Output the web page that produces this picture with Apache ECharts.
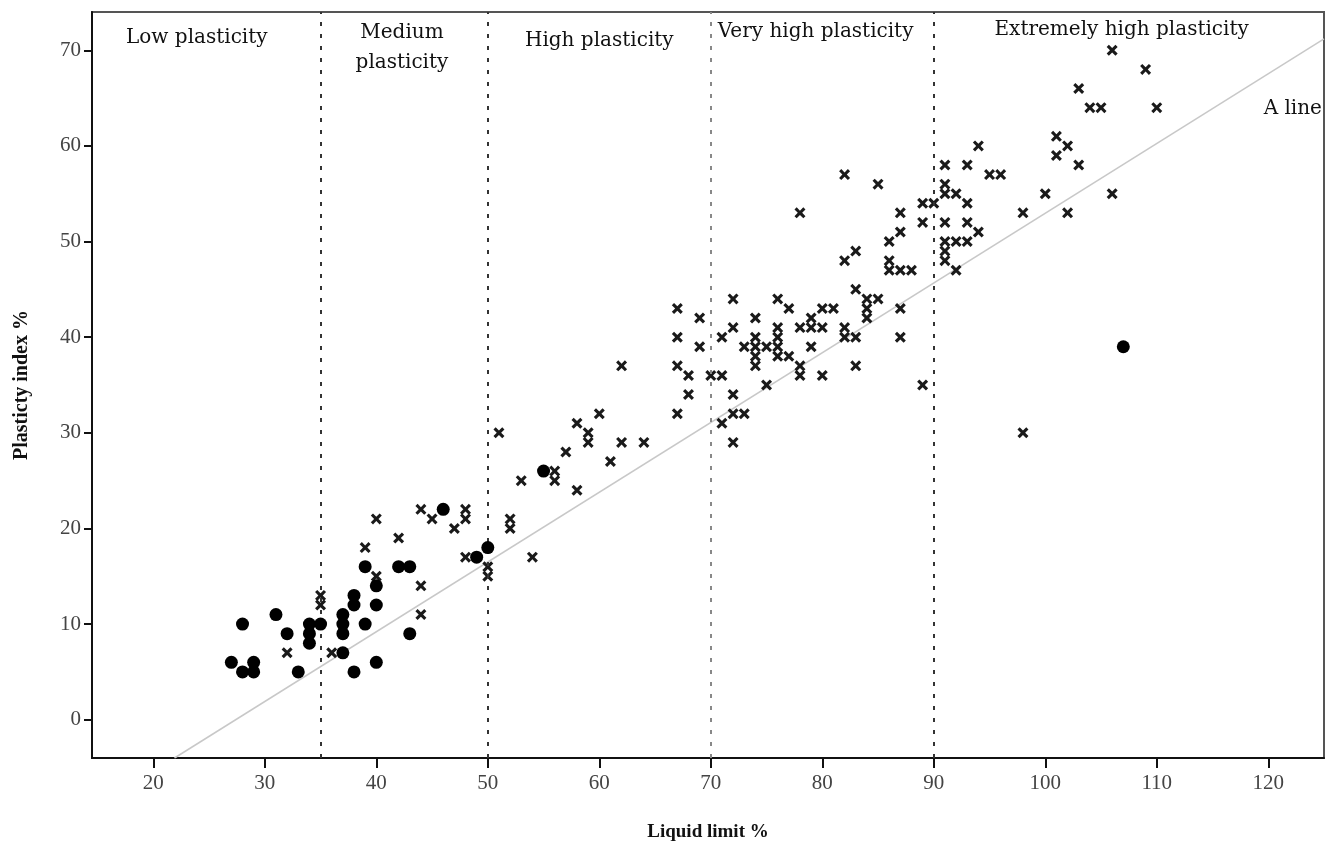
<!DOCTYPE html>
<html>
<head>
<meta charset="utf-8">
<script src="https://cdn.jsdelivr.net/npm/echarts@6/dist/echarts.min.js"></script>
<style>
  html, body { margin: 0; padding: 0; background: #fff; }
  #chart { width: 1325px; height: 848px; }
</style>
</head>
<body>
<div id="chart"></div>
<script>
// liquid limit / plasticity index pairs
var dotPoints = [
  [27, 6], [28, 5], [28, 10], [29, 5], [29, 6], [31, 11], [32, 9], [33, 5],
  [34, 8], [34, 9], [34, 10], [35, 10], [37, 7], [37, 9], [37, 10], [37, 11],
  [38, 5], [38, 12], [38, 13], [39, 10], [39, 16], [40, 6], [40, 12], [40, 14],
  [42, 16], [43, 9], [43, 16], [46, 22], [49, 17], [50, 18], [55, 26], [107, 39]
];
var crossPoints = [
  [32, 7], [35, 13], [35, 12], [36, 7], [39, 18], [40, 21], [40, 15], [42, 19],
  [44, 22], [45, 21], [44, 14], [44, 11], [47, 20], [48, 22], [48, 21], [48, 17],
  [50, 16], [50, 15], [51, 30], [52, 21], [52, 20], [53, 25], [54, 17], [56, 26],
  [56, 25], [57, 28], [58, 31], [58, 24], [59, 30], [59, 29], [60, 32], [61, 27],
  [62, 29], [62, 37], [64, 29], [67, 43], [67, 40], [67, 37], [67, 32], [68, 36],
  [68, 34], [69, 42], [69, 39], [70, 36], [71, 36], [71, 40], [71, 31], [72, 44],
  [72, 41], [72, 34], [72, 32], [72, 29], [73, 32], [73, 39], [74, 42], [74, 40],
  [74, 39], [74, 38], [74, 37], [75, 39], [75, 35], [76, 44], [76, 41], [76, 40],
  [76, 39], [76, 38], [77, 43], [77, 38], [78, 53], [78, 41], [78, 37], [78, 36],
  [79, 42], [79, 41], [79, 39], [80, 43], [80, 41], [80, 36], [81, 43], [82, 57],
  [82, 48], [82, 41], [82, 40], [83, 49], [83, 45], [83, 40], [83, 37], [84, 44],
  [84, 43], [84, 42], [85, 56], [85, 44], [86, 50], [86, 48], [86, 47], [87, 53],
  [87, 51], [87, 47], [87, 43], [87, 40], [88, 47], [89, 54], [89, 52], [89, 35],
  [90, 54], [91, 58], [91, 56], [91, 55], [91, 52], [91, 50], [91, 49], [91, 48],
  [92, 55], [92, 50], [92, 47], [93, 58], [93, 54], [93, 52], [93, 50], [94, 60],
  [94, 51], [95, 57], [96, 57], [98, 53], [98, 30], [100, 55], [101, 61], [101, 59],
  [102, 60], [102, 53], [103, 66], [103, 58], [104, 64], [105, 64], [106, 70],
  [106, 55], [109, 68], [110, 64]
];
// A line end points
var aLine = [[21.9, -4], [125, 71.2]];
// plasticity class boundaries on the liquid limit axis
var boundaries = [35, 50, 70, 90];
var xTicks = [20, 30, 40, 50, 60, 70, 80, 90, 100, 110, 120];
var yTicks = [0, 10, 20, 30, 40, 50, 60, 70];
var zoneNames = ['Low plasticity', 'Medium\nplasticity', 'High plasticity',
  'Very high plasticity', 'Extremely high plasticity', 'A line'];

var zoneAnchors = [[23.9, 71.3], [42.3, 70.3], [60, 71.0], [79.4, 71.9], [106.85, 72.1], [122.2, 63.9]];

var serif = '"Liberation Serif", serif';
var wideSerif = '"DejaVu Serif", serif';
var crossPath = 'path://M2,0 L5,3 L8,0 L10,2 L7,5 L10,8 L8,10 L5,7 L2,10 L0,8 L3,5 L0,2 Z';

function draw() {
  var chart = echarts.init(document.getElementById('chart'));
  var option = {
    animation: false,
    backgroundColor: '#fff',
    grid: {
      left: 92, right: 1, top: 12, bottom: 90,
      show: true, borderColor: '#555', borderWidth: 2
    },
    xAxis: {
      type: 'value', min: 14.5, max: 125,
      name: 'Liquid limit %', nameLocation: 'middle', nameGap: 65,
      nameTextStyle: { fontFamily: serif, fontWeight: 'bold', fontSize: 19, color: '#111' },
      axisLine: { show: true, onZero: false, lineStyle: { color: '#111', width: 2 } },
      axisTick: { show: true, length: 10, customValues: xTicks, lineStyle: { color: '#111', width: 2 } },
      axisLabel: { customValues: xTicks, fontFamily: serif, fontSize: 21, color: '#444', margin: 15 },
      splitLine: { show: false }
    },
    yAxis: {
      type: 'value', min: -4, max: 74,
      name: 'Plasticty index %', nameLocation: 'middle', nameGap: 60,
      nameTextStyle: { fontFamily: serif, fontWeight: 'bold', fontSize: 20, color: '#111' },
      axisLine: { show: true, onZero: false, lineStyle: { color: '#111', width: 2 } },
      axisTick: { show: true, length: 8, customValues: yTicks, lineStyle: { color: '#111', width: 2 } },
      axisLabel: { customValues: yTicks, fontFamily: serif, fontSize: 21, color: '#444', margin: 11 },
      splitLine: { show: false }
    },
    series: [
      {
        name: 'A line',
        type: 'line',
        data: aLine,
        symbol: 'none',
        silent: true,
        lineStyle: { color: '#c8c8c8', width: 1.5 },
        markLine: {
          silent: true,
          symbol: 'none',
          label: { show: false },
          data: boundaries.map(function (v) {
            return {
              xAxis: v,
              lineStyle: { color: v === 70 ? '#888' : '#333', type: [4, 8], width: 2, opacity: 1 }
            };
          })
        },
        z: 1
      },
      {
        name: 'zones',
        type: 'scatter',
        symbolSize: 0,
        silent: true,
        itemStyle: { opacity: 1 },
        data: zoneNames.map(function (t, i) {
          return { value: zoneAnchors[i], name: t };
        }),
        label: {
          show: true, position: 'inside', formatter: '{b}',
          fontFamily: wideSerif, fontSize: 20, color: '#111', lineHeight: 30
        },
        z: 3
      },
      {
        name: 'cross',
        type: 'scatter',
        data: crossPoints,
        symbol: crossPath,
        symbolSize: 11,
        itemStyle: { color: '#1a1a1a', opacity: 1 },
        z: 4
      },
      {
        name: 'dot',
        type: 'scatter',
        data: dotPoints,
        symbol: 'circle',
        symbolSize: 13,
        itemStyle: { color: '#000', opacity: 1 },
        z: 5
      }
    ]
  };
  chart.setOption(option);
}

// make sure the local fonts are ready before canvas text is measured
if (document.fonts && document.fonts.load) {
  Promise.all([
    document.fonts.load('21px "Liberation Serif"'),
    document.fonts.load('bold 20px "Liberation Serif"'),
    document.fonts.load('20px "DejaVu Serif"')
  ]).then(draw, draw);
} else {
  draw();
}
</script>
</body>
</html>
